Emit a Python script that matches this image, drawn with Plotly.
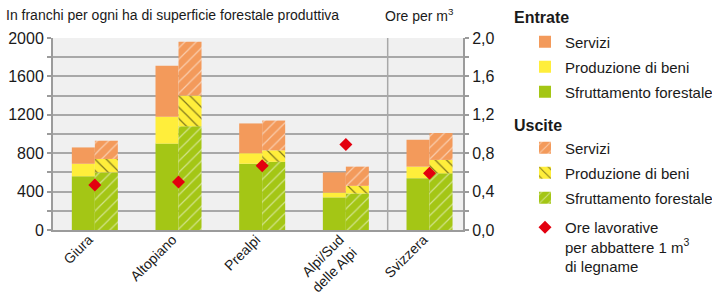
import plotly.graph_objects as go

categories = ["Giura", "Altopiano", "Prealpi", "Alpi/Sud<br>delle Alpi", "Svizzera"]

# Entrate (franchi per ha)
ent_sfruttamento = [560, 900, 690, 340, 540]
ent_produzione = [130, 280, 110, 50, 120]
ent_servizi = [170, 530, 310, 210, 280]

# Uscite (franchi per ha)
usc_sfruttamento = [600, 1080, 710, 380, 590]
usc_produzione = [140, 320, 120, 80, 140]
usc_servizi = [190, 560, 310, 200, 280]

# Ore lavorative per abbattere 1 m3 di legname
ore_per_m3 = [0.47, 0.50, 0.67, 0.89, 0.59]

left_ticks = [0, 400, 800, 1200, 1600, 2000]
right_ticks = [0.0, 0.4, 0.8, 1.2, 1.6, 2.0]

ORANGE = "#F39A5B"
YELLOW = "#FFEE3B"
GREEN = "#A4C615"
RED = "#E3000F"
GRID = "#A8A8A8"
AXIS = "#9B9B9B"
FONT = "Liberation Sans, Arial, sans-serif"
TXT = "#1a1a1a"

W, H = 712, 297
ML, MR, MT, MB = 53, 249, 38, 67
PW, PH = W - ML - MR, H - MT - MB


def px_x(x):
    return (x - ML) / PW


def px_y(y):
    return (H - MB - y) / PH


def cum(*arrs):
    return [sum(v) for v in zip(*arrs)]


fig = go.Figure()

ent_layers = [
    ("Sfruttamento forestale", ent_sfruttamento, GREEN, [0] * 5, "legend3"),
    ("Produzione di beni", ent_produzione, YELLOW, ent_sfruttamento, "legend2"),
    ("Servizi", ent_servizi, ORANGE, cum(ent_sfruttamento, ent_produzione), "legend"),
]
for name, vals, col, base, leg in ent_layers:
    fig.add_trace(go.Bar(
        x=categories, y=vals, base=base, name=name, offsetgroup="E",
        marker=dict(color=col, line=dict(width=0)), legend=leg,
    ))

usc_layers = [
    ("Sfruttamento forestale", usc_sfruttamento, GREEN, [0] * 5, "/", "white", "legend6"),
    ("Produzione di beni", usc_produzione, YELLOW, usc_sfruttamento, "\\", "black", "legend5"),
    ("Servizi", usc_servizi, ORANGE, cum(usc_sfruttamento, usc_produzione), "/", "white", "legend4"),
]
for name, vals, col, base, shp, fg, leg in usc_layers:
    fig.add_trace(go.Bar(
        x=categories, y=vals, base=base, name=name, offsetgroup="U",
        marker=dict(color=col, line=dict(width=0),
                    pattern=dict(shape=shp, fgcolor=fg, bgcolor=col, size=8, solidity=0.15)),
        legend=leg,
    ))

fig.add_trace(go.Scatter(
    x=categories, y=ore_per_m3, yaxis="y2", mode="markers",
    name="Ore lavorative<br>per abbattere 1 m<sup>3</sup><br>di legname",
    marker=dict(symbol="diamond", size=10, color=RED, line=dict(width=0)),
    legend="legend7",
))

fig.add_shape(type="line", xref="x", yref="paper", x0=3.5, x1=3.5, y0=0, y1=1,
              line=dict(color=GRID, width=1.5), layer="below")

fig.add_annotation(text="In franchi per ogni ha di superficie forestale produttiva",
                   xref="paper", yref="paper", x=px_x(4), y=px_y(15),
                   xanchor="left", yanchor="middle", showarrow=False,
                   font=dict(size=14, color=TXT, family=FONT))
fig.add_annotation(text="Ore per m<sup>3</sup>",
                   xref="paper", yref="paper", x=px_x(456), y=px_y(15),
                   xanchor="right", yanchor="middle", showarrow=False,
                   font=dict(size=14, color=TXT, family=FONT))
for title, ypx in [("Entrate", 18), ("Uscite", 125)]:
    fig.add_annotation(text="<b>%s</b>" % title, xref="paper", yref="paper",
                       x=px_x(512), y=px_y(ypx), xanchor="left", yanchor="middle",
                       showarrow=False, font=dict(size=16, color=TXT, family=FONT))

legend_y = {"legend": 42, "legend2": 67, "legend3": 92,
            "legend4": 148, "legend5": 173, "legend6": 198, "legend7": 211}
legends = {}
for key, ypx in legend_y.items():
    legends[key] = dict(x=px_x(525), y=px_y(ypx),
                        xanchor="left", yanchor="top" if key == "legend7" else "middle",
                        font=dict(size=15, color=TXT, family=FONT), valign="top",
                        bgcolor="rgba(0,0,0,0)", itemwidth=30)

fig.update_layout(
    width=W, height=H,
    margin=dict(l=ML, r=MR, t=MT, b=MB, autoexpand=False),
    plot_bgcolor="#F0F0F0", paper_bgcolor="white",
    font=dict(family=FONT, size=15, color=TXT),
    barmode="group", bargap=0.45, bargroupgap=0,
    separators=",.",
    showlegend=True,
    xaxis=dict(type="category", range=[-0.5, 4.4], showline=True, linecolor=AXIS,
               linewidth=2, tickangle=-45, ticks="", showgrid=False, ticklabelshift=-6,
               ticklabelstandoff=-6, tickfont=dict(size=14, color=TXT)),
    yaxis=dict(range=[0, 2000], tickvals=left_ticks, showgrid=True, gridcolor=GRID, gridwidth=1.5,
               ticks="outside", ticklen=4, tickcolor=AXIS, tickwidth=1.5,
               minor=dict(dtick=200, showgrid=True, gridcolor=GRID, gridwidth=1.5,
                          ticks="outside", ticklen=4, tickcolor=AXIS, tickwidth=1.5),
               showline=True, linecolor=AXIS, linewidth=2, zeroline=False,
               tickfont=dict(size=16, color=TXT)),
    yaxis2=dict(range=[0, 2.0], tickvals=right_ticks, tickformat=".1f", overlaying="y", side="right",
                showgrid=False, ticks="outside", ticklen=4, tickcolor=AXIS, tickwidth=1.5,
                minor=dict(dtick=0.2, ticks="outside", ticklen=4, tickcolor=AXIS, tickwidth=1.5),
                showline=True, linecolor=AXIS, linewidth=2, zeroline=False,
                tickfont=dict(size=16, color=TXT)),
    **legends,
)

fig.write_html("out.html", config={"displayModeBar": False},
               post_script="document.body.style.margin='0';")
